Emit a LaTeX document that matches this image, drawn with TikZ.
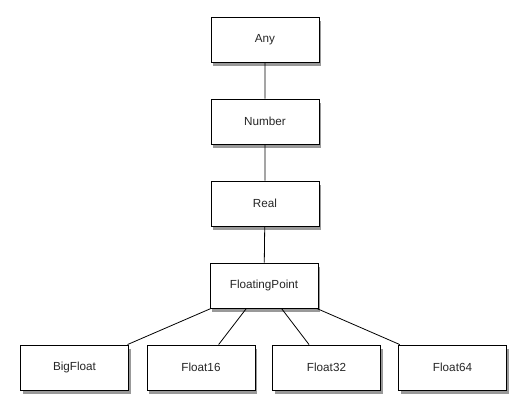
\documentclass[tikz,border=0pt]{standalone}
\usepackage{fontspec}
\setmainfont{Liberation Sans}

\begin{document}
\begin{tikzpicture}[x=1pt,y=-1pt,
  typebox/.style={draw,line width=0.9pt,fill=white,minimum width=108pt,minimum height=45pt,
    inner sep=0pt,text=black!85,font=\fontsize{11.7}{14}\selectfont,
    preaction={fill=black!40,transform canvas={xshift=2pt,yshift=-4pt}}}]
\useasboundingbox (0,0) rectangle (527,414);

\node[typebox] (any)    at (265, 39.5) {Any};
\node[typebox] (number) at (265,121.5) {Number};
\node[typebox] (real)   at (265,203.5) {Real};
\node[typebox] (fp)     at (264,285.5) {FloatingPoint};

\node[typebox] (bigfloat) at ( 74.5,367.5) {BigFloat};
\node[typebox] (f16)      at (201,  367.5) {Float16};
\node[typebox] (f32)      at (326.5,367.5) {Float32};
\node[typebox] (f64)      at (452.5,367.5) {Float64};

\draw[line width=0.8pt] (any)--(number)--(real)--(fp);
\foreach \x in {bigfloat,f16,f32,f64} \draw[line width=0.8pt] (fp)--(\x);
\end{tikzpicture}
\end{document}
